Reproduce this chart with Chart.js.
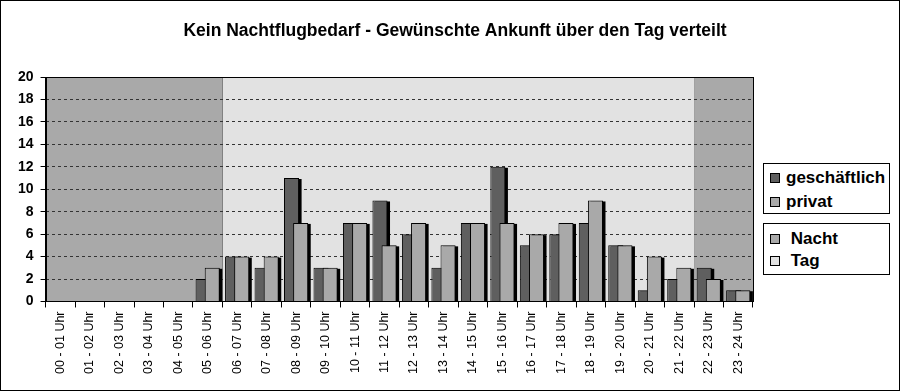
<!DOCTYPE html>
<html>
<head>
<meta charset="utf-8">
<script src="https://cdn.jsdelivr.net/npm/chart.js@4/dist/chart.umd.min.js"></script>
<style>
  body { margin: 0; background: #fff; }
  #wrap { position: relative; width: 898px; height: 389px; border: 1px solid #000; font-family: "Liberation Sans", Arial, sans-serif; }
  .legend { position: absolute; left: 762px; width: 127px; border: 1px solid #000; background: #fff; box-sizing: border-box; }
  .legend div { font-weight: bold; font-size: 17px; display: flex; align-items: center; white-space: nowrap; }
  .legend span { display: inline-block; width: 8px; height: 8px; border: 1px solid #000; margin: 0 6px 0 6px; }
</style>
</head>
<body>
<div id="wrap">
  <canvas id="chart" width="898" height="389"></canvas>
  <div class="legend" id="legendSerien" style="top:162px;height:51px;padding-top:2px"></div>
  <div class="legend" id="legendZeit" style="top:222px;height:52px;padding-top:4px"></div>
</div>
<script>
const stunden = [
  "00 - 01 Uhr", "01 - 02 Uhr", "02 - 03 Uhr", "03 - 04 Uhr", "04 - 05 Uhr", "05 - 06 Uhr",
  "06 - 07 Uhr", "07 - 08 Uhr", "08 - 09 Uhr", "09 - 10 Uhr", "10 - 11 Uhr", "11 - 12 Uhr",
  "12 - 13 Uhr", "13 - 14 Uhr", "14 - 15 Uhr", "15 - 16 Uhr", "16 - 17 Uhr", "17 - 18 Uhr",
  "18 - 19 Uhr", "19 - 20 Uhr", "20 - 21 Uhr", "21 - 22 Uhr", "22 - 23 Uhr", "23 - 24 Uhr"
];
const geschaeftlich = [0, 0, 0, 0, 0, 2, 4, 3, 11, 3, 7, 9, 6, 3, 7, 12, 5, 6, 7, 5, 1, 2, 3, 1];
const privat        = [0, 0, 0, 0, 0, 3, 4, 4, 7, 3, 7, 5, 7, 5, 7, 7, 6, 7, 9, 5, 4, 3, 2, 1];
// Tageszeit je Stunde (Hintergrund)
const tageszeit = [
  "Nacht", "Nacht", "Nacht", "Nacht", "Nacht", "Nacht",
  "Tag", "Tag", "Tag", "Tag", "Tag", "Tag", "Tag", "Tag",
  "Tag", "Tag", "Tag", "Tag", "Tag", "Tag", "Tag", "Tag",
  "Nacht", "Nacht"
];

const farben = { geschaeftlich: "#5f5f5f", privat: "#a9a9a9", Nacht: "#a9a9a9", Tag: "#e2e2e2" };

Chart.defaults.font.family = '"Liberation Sans", Arial, sans-serif';
Chart.defaults.color = "#000";

// Hintergrund Nacht/Tag ueber die x-Skala
const hintergrund = {
  id: "hintergrund",
  beforeDraw(chart) {
    const { ctx, chartArea: a, scales: { x } } = chart;
    const w = x.width / stunden.length;
    ctx.save();
    let start = 0;
    for (let i = 1; i <= tageszeit.length; i++) {
      if (i === tageszeit.length || tageszeit[i] !== tageszeit[start]) {
        const x1 = x.getPixelForValue(start) - w / 2;
        const x2 = x.getPixelForValue(i - 1) + w / 2;
        ctx.fillStyle = farben[tageszeit[start]];
        ctx.fillRect(x1, a.top, x2 - x1, a.bottom - a.top);
        if (i < tageszeit.length) {
          ctx.strokeStyle = "#000";
          ctx.lineWidth = 1;
          ctx.beginPath();
          ctx.moveTo(Math.round(x2) + 0.5, a.top);
          ctx.lineTo(Math.round(x2) + 0.5, a.bottom);
          ctx.stroke();
        }
        start = i;
      }
    }
    ctx.restore();
  },
  afterDraw(chart) {
    const { ctx, chartArea: a } = chart;
    ctx.save();
    ctx.strokeStyle = "#000";
    ctx.lineWidth = 1;
    ctx.strokeRect(Math.round(a.left) + 0.5, Math.round(a.top) + 0.5, Math.round(a.right - a.left), Math.round(a.bottom - a.top));
    ctx.restore();
  }
};

function schatten(chart, meta) {
  const ctx = chart.ctx;
  ctx.save();
  ctx.fillStyle = "#000";
  meta.data.forEach(bar => {
    const p = bar.getProps(["x", "y", "base", "width"], true);
    if (p.base - p.y < 0.5) return;
    ctx.fillRect(p.x - p.width / 2 + 2.5, p.y + 1, p.width, p.base - p.y - 1);
  });
  ctx.restore();
}

// privat soll ueber geschaeftlich liegen, dazu je ein Schatten
const balken = {
  id: "balken",
  beforeDatasetDraw(chart, args) {
    if (args.index === 1) return false;
    schatten(chart, args.meta);
  },
  afterDatasetDraw(chart, args) {
    if (args.index === 0) {
      const meta = chart.getDatasetMeta(1);
      schatten(chart, meta);
      meta.controller.draw();
    }
  }
};

const chart = new Chart(document.getElementById("chart"), {
  type: "bar",
  data: {
    labels: stunden,
    datasets: [
      { label: "geschäftlich", data: geschaeftlich, backgroundColor: farben.geschaeftlich },
      { label: "privat", data: privat, backgroundColor: farben.privat }
    ]
  },
  options: {
    responsive: false,
    animation: false,
    layout: { padding: { left: 10, right: 0, top: 0, bottom: 12 } },
    datasets: {
      bar: {
        borderColor: "#000",
        borderWidth: 1,
        categoryPercentage: 0.62,
        barPercentage: 1.65
      }
    },
    plugins: {
      legend: { display: false },
      tooltip: { enabled: false },
      title: {
        display: true,
        text: "Kein Nachtflugbedarf - Gewünschte Ankunft über den Tag verteilt",
        font: { size: 17.5, weight: "bold" },
        color: "#000",
        padding: { top: 20, bottom: 35 }
      }
    },
    scales: {
      x: {
        grid: { display: true, drawOnChartArea: false, color: "#000", tickLength: 6 },
        border: { color: "#000", width: 1 },
        ticks: { minRotation: 90, maxRotation: 90, autoSkip: false, font: { size: 12.5 }, color: "#000", padding: 4 }
      },
      y: {
        min: 0,
        max: 20,
        ticks: { stepSize: 2, font: { size: 14, weight: "bold" }, color: "#000", padding: 7 },
        grid: { color: "#333", tickColor: "#000", tickLength: 5, tickBorderDash: [] },
        border: { color: "#000", width: 1, dash: [3, 3] }
      },
      // leerer Bereich rechts fuer die Legenden
      rand: {
        position: "right",
        display: true,
        ticks: { display: false },
        grid: { display: false },
        border: { display: false },
        afterFit(scale) { scale.width = 146; }
      }
    }
  },
  plugins: [hintergrund, balken]
});

// Legenden
function legende(id, eintraege) {
  const box = document.getElementById(id);
  eintraege.forEach(e => {
    const row = document.createElement("div");
    row.style.height = e.h + "px";
    row.innerHTML = `<span style="background:${e.farbe}"></span>${e.text}`;
    box.appendChild(row);
  });
}
legende("legendSerien", [
  { text: chart.data.datasets[0].label, farbe: farben.geschaeftlich, h: 24 },
  { text: chart.data.datasets[1].label, farbe: farben.privat, h: 24 }
]);
legende("legendZeit", [
  { text: "&nbsp;Nacht", farbe: farben.Nacht, h: 22 },
  { text: "&nbsp;Tag", farbe: farben.Tag, h: 22 }
]);
</script>
</body>
</html>
